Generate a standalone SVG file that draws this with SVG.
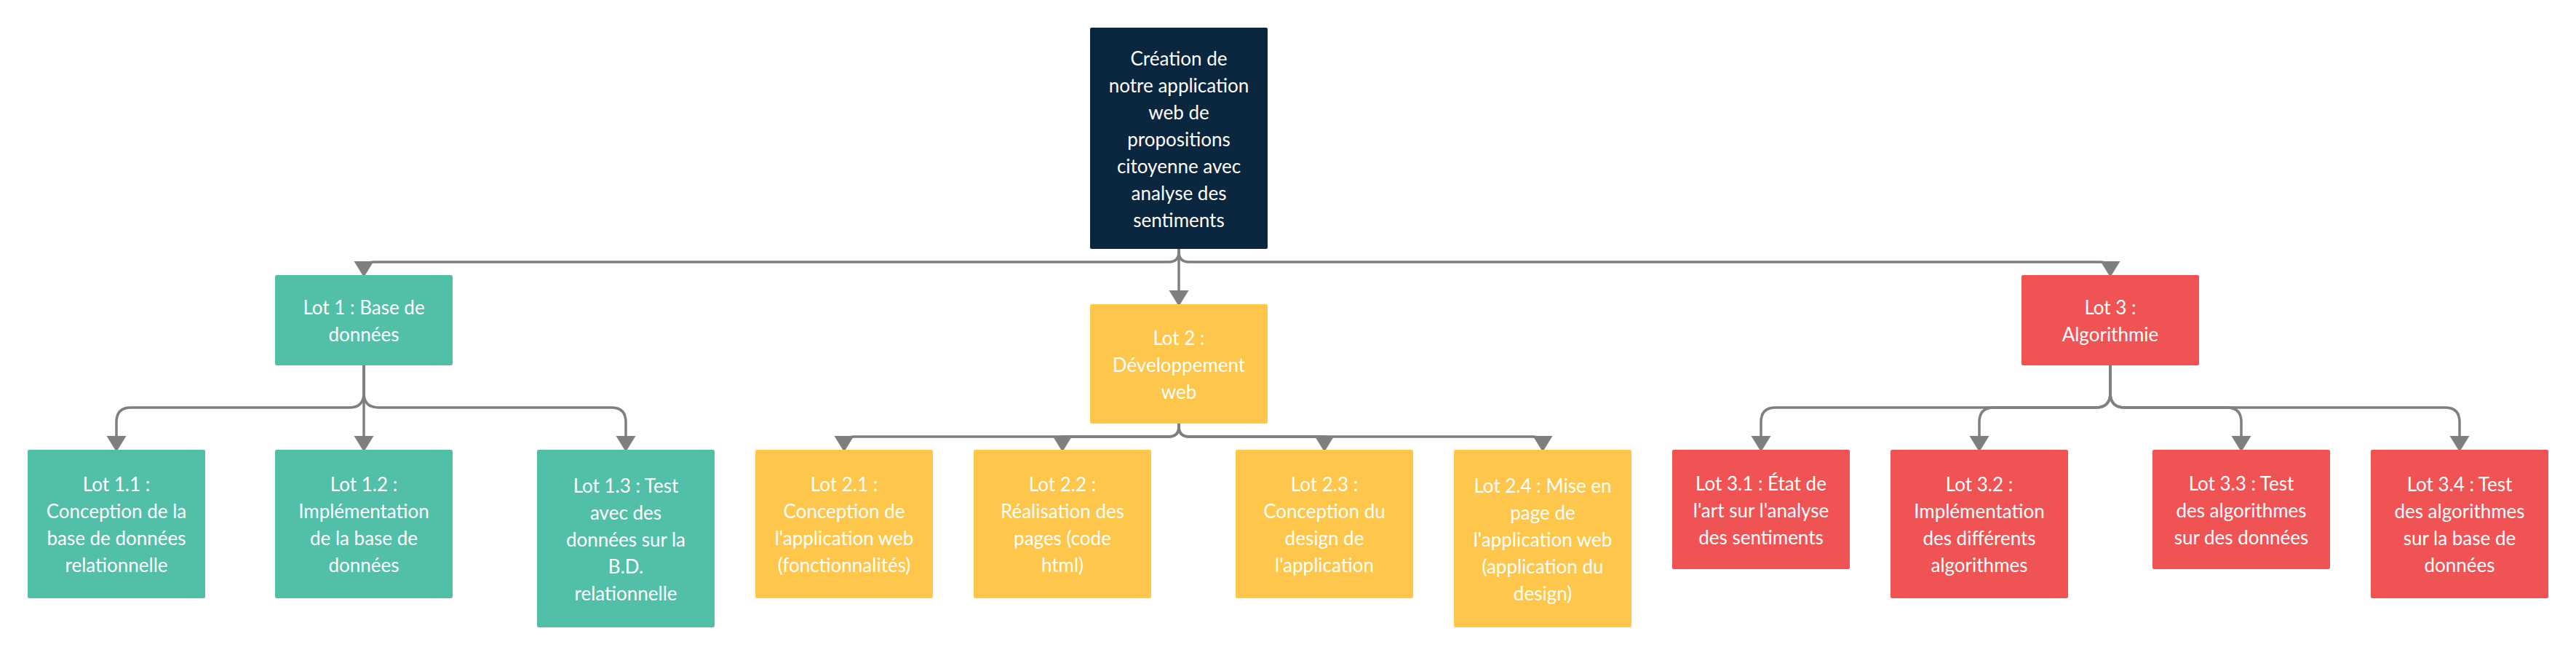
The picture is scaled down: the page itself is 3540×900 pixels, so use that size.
<svg xmlns="http://www.w3.org/2000/svg" width="3540" height="900" viewBox="0 0 3540 900">
<defs>
<style>
.t{font-family:Lato,"Noto Sans","Liberation Sans",sans-serif;font-size:26px;fill:#ffffff;text-anchor:middle}
.navy{fill:#0b2740}
.teal{fill:#52bfa9}
.yellow{fill:#fec64a}
.red{fill:#f05353}
.c{fill:none;stroke:#7f7f7f;stroke-width:3.5;marker-end:url(#arr)}
</style>
<marker id="arr" markerUnits="userSpaceOnUse" markerWidth="22" markerHeight="28" viewBox="0 0 22 28" refX="22" refY="14" orient="auto">
<path d="M0,0.5 L22,14 L0,27.5 z" fill="#7f7f7f"/>
</marker>
</defs>
<rect width="3540" height="900" fill="#ffffff"/>
<g id="connectors">
<path class="c" d="M1620,342 L1620,346 Q1620,360 1606,360 L514,360 Q500,360 500,374 L500,381"/>
<path class="c" d="M1620,342 L1620,421"/>
<path class="c" d="M1620,342 L1620,346 Q1620,360 1634,360 L2886,360 Q2900,360 2900,374 L2900,381"/>
<path class="c" d="M500,502 L500,540 Q500,560 480,560 L180,560 Q160,560 160,580 L160,621"/>
<path class="c" d="M500,502 L500,621"/>
<path class="c" d="M500,502 L500,540 Q500,560 520,560 L840,560 Q860,560 860,580 L860,621"/>
<path class="c" d="M1620,582 L1620,586 Q1620,600 1606,600 L1174,600 Q1160,600 1160,614 L1160,621"/>
<path class="c" d="M1620,582 L1620,586 Q1620,600 1606,600 L1460,600 L1460,621"/>
<path class="c" d="M1620,582 L1620,586 Q1620,600 1634,600 L1820,600 L1820,621"/>
<path class="c" d="M1620,582 L1620,586 Q1620,600 1634,600 L2106,600 Q2120,600 2120,614 L2120,621"/>
<path class="c" d="M2900,502 L2900,540 Q2900,560 2880,560 L2440,560 Q2420,560 2420,580 L2420,621"/>
<path class="c" d="M2900,502 L2900,540 Q2900,560 2880,560 L2740,560 Q2720,560 2720,580 L2720,621"/>
<path class="c" d="M2900,502 L2900,540 Q2900,560 2920,560 L3060,560 Q3080,560 3080,580 L3080,621"/>
<path class="c" d="M2900,502 L2900,540 Q2900,560 2920,560 L3360,560 Q3380,560 3380,580 L3380,621"/>
</g>
<g id="root">
<rect class="navy" x="1498" y="38" width="244" height="304" rx="2"/>
<text class="t"><tspan x="1620" y="89.5">Création de</tspan><tspan x="1620" y="126.5">notre application</tspan><tspan x="1620" y="163.5">web de</tspan><tspan x="1620" y="200.5">propositions</tspan><tspan x="1620" y="237.5">citoyenne avec</tspan><tspan x="1620" y="274.5">analyse des</tspan><tspan x="1620" y="311.5">sentiments</tspan></text>
</g>
<g id="lot1">
<rect class="teal" x="378" y="378" width="244" height="124" rx="2"/>
<text class="t"><tspan x="500" y="432">Lot 1 : Base de</tspan><tspan x="500" y="469">données</tspan></text>
</g>
<g id="lot2">
<rect class="yellow" x="1498" y="418" width="244" height="164" rx="2"/>
<text class="t"><tspan x="1620" y="473.5">Lot 2 :</tspan><tspan x="1620" y="510.5">Développement</tspan><tspan x="1620" y="547.5">web</tspan></text>
</g>
<g id="lot3">
<rect class="red" x="2778" y="378" width="244" height="124" rx="2"/>
<text class="t"><tspan x="2900" y="432">Lot 3 :</tspan><tspan x="2900" y="469">Algorithmie</tspan></text>
</g>
<g id="lot1-1">
<rect class="teal" x="38" y="618" width="244" height="204" rx="2"/>
<text class="t"><tspan x="160" y="675">Lot 1.1 :</tspan><tspan x="160" y="712">Conception de la</tspan><tspan x="160" y="749">base de données</tspan><tspan x="160" y="786">relationnelle</tspan></text>
</g>
<g id="lot1-2">
<rect class="teal" x="378" y="618" width="244" height="204" rx="2"/>
<text class="t"><tspan x="500" y="675">Lot 1.2 :</tspan><tspan x="500" y="712">Implémentation</tspan><tspan x="500" y="749">de la base de</tspan><tspan x="500" y="786">données</tspan></text>
</g>
<g id="lot1-3">
<rect class="teal" x="738" y="618" width="244" height="244" rx="2"/>
<text class="t"><tspan x="860" y="676.5">Lot 1.3 : Test</tspan><tspan x="860" y="713.5">avec des</tspan><tspan x="860" y="750.5">données sur la</tspan><tspan x="860" y="787.5">B.D.</tspan><tspan x="860" y="824.5">relationnelle</tspan></text>
</g>
<g id="lot2-1">
<rect class="yellow" x="1038" y="618" width="244" height="204" rx="2"/>
<text class="t"><tspan x="1160" y="675">Lot 2.1 :</tspan><tspan x="1160" y="712">Conception de</tspan><tspan x="1160" y="749">l'application web</tspan><tspan x="1160" y="786">(fonctionnalités)</tspan></text>
</g>
<g id="lot2-2">
<rect class="yellow" x="1338" y="618" width="244" height="204" rx="2"/>
<text class="t"><tspan x="1460" y="675">Lot 2.2 :</tspan><tspan x="1460" y="712">Réalisation des</tspan><tspan x="1460" y="749">pages (code</tspan><tspan x="1460" y="786">html)</tspan></text>
</g>
<g id="lot2-3">
<rect class="yellow" x="1698" y="618" width="244" height="204" rx="2"/>
<text class="t"><tspan x="1820" y="675">Lot 2.3 :</tspan><tspan x="1820" y="712">Conception du</tspan><tspan x="1820" y="749">design de</tspan><tspan x="1820" y="786">l'application</tspan></text>
</g>
<g id="lot2-4">
<rect class="yellow" x="1998" y="618" width="244" height="244" rx="2"/>
<text class="t"><tspan x="2120" y="676.5">Lot 2.4 : Mise en</tspan><tspan x="2120" y="713.5">page de</tspan><tspan x="2120" y="750.5">l'application web</tspan><tspan x="2120" y="787.5">(application du</tspan><tspan x="2120" y="824.5">design)</tspan></text>
</g>
<g id="lot3-1">
<rect class="red" x="2298" y="618" width="244" height="164" rx="2"/>
<text class="t"><tspan x="2420" y="673.5">Lot 3.1 : État de</tspan><tspan x="2420" y="710.5">l'art sur l'analyse</tspan><tspan x="2420" y="747.5">des sentiments</tspan></text>
</g>
<g id="lot3-2">
<rect class="red" x="2598" y="618" width="244" height="204" rx="2"/>
<text class="t"><tspan x="2720" y="675">Lot 3.2 :</tspan><tspan x="2720" y="712">Implémentation</tspan><tspan x="2720" y="749">des différents</tspan><tspan x="2720" y="786">algorithmes</tspan></text>
</g>
<g id="lot3-3">
<rect class="red" x="2958" y="618" width="244" height="164" rx="2"/>
<text class="t"><tspan x="3080" y="673.5">Lot 3.3 : Test</tspan><tspan x="3080" y="710.5">des algorithmes</tspan><tspan x="3080" y="747.5">sur des données</tspan></text>
</g>
<g id="lot3-4">
<rect class="red" x="3258" y="618" width="244" height="204" rx="2"/>
<text class="t"><tspan x="3380" y="675">Lot 3.4 : Test</tspan><tspan x="3380" y="712">des algorithmes</tspan><tspan x="3380" y="749">sur la base de</tspan><tspan x="3380" y="786">données</tspan></text>
</g>
</svg>
